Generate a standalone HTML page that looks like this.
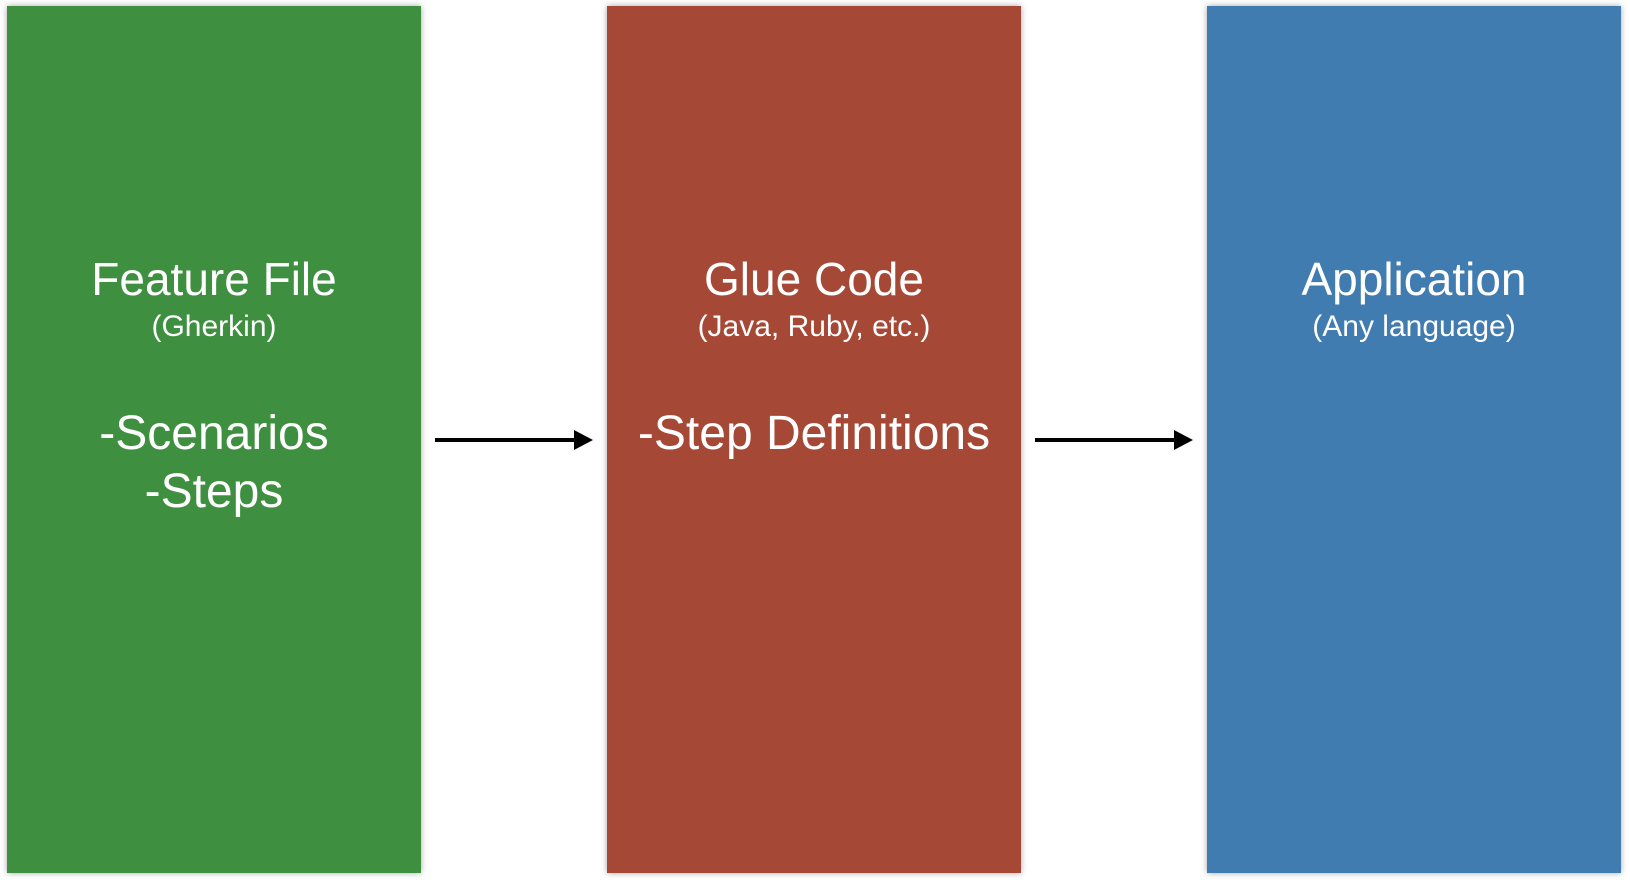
<!DOCTYPE html>
<html><head><style>
body{margin:0;width:1630px;height:882px;background:#fff;position:relative;overflow:hidden;font-family:"Liberation Sans",sans-serif;}
.b{position:absolute;top:6px;width:414px;height:867px;box-shadow:0 0 6px rgba(0,0,0,0.35);color:#fff;text-align:center;}
.t{position:absolute;left:0;right:0;white-space:nowrap;}
</style></head><body>
<div class="b" style="left:7px;background:#3f8f40;">
<div class="t" style="top:246px;font-size:46px;">Feature File</div>
<div class="t" style="top:304px;font-size:30px;">(Gherkin)</div>
<div class="t" style="top:400px;font-size:48px;">-Scenarios</div>
<div class="t" style="top:458px;font-size:48px;">-Steps</div>
</div>
<div class="b" style="left:607px;background:#a64836;">
<div class="t" style="top:246px;font-size:46px;">Glue Code</div>
<div class="t" style="top:304px;font-size:30px;">(Java, Ruby, etc.)</div>
<div class="t" style="top:400px;font-size:48px;">-Step Definitions</div>
</div>
<div class="b" style="left:1207px;background:#417cb0;">
<div class="t" style="top:246px;font-size:46px;">Application</div>
<div class="t" style="top:304px;font-size:30px;">(Any language)</div>
</div>
<svg width="1630" height="882" style="position:absolute;left:0;top:0">
<line x1="435" y1="440" x2="576" y2="440" stroke="#000" stroke-width="4"/>
<polygon points="574,430 593,440 574,450" fill="#000"/>
<line x1="1035" y1="440" x2="1176" y2="440" stroke="#000" stroke-width="4"/>
<polygon points="1174,430 1193,440 1174,450" fill="#000"/>
</svg>
</body></html>
